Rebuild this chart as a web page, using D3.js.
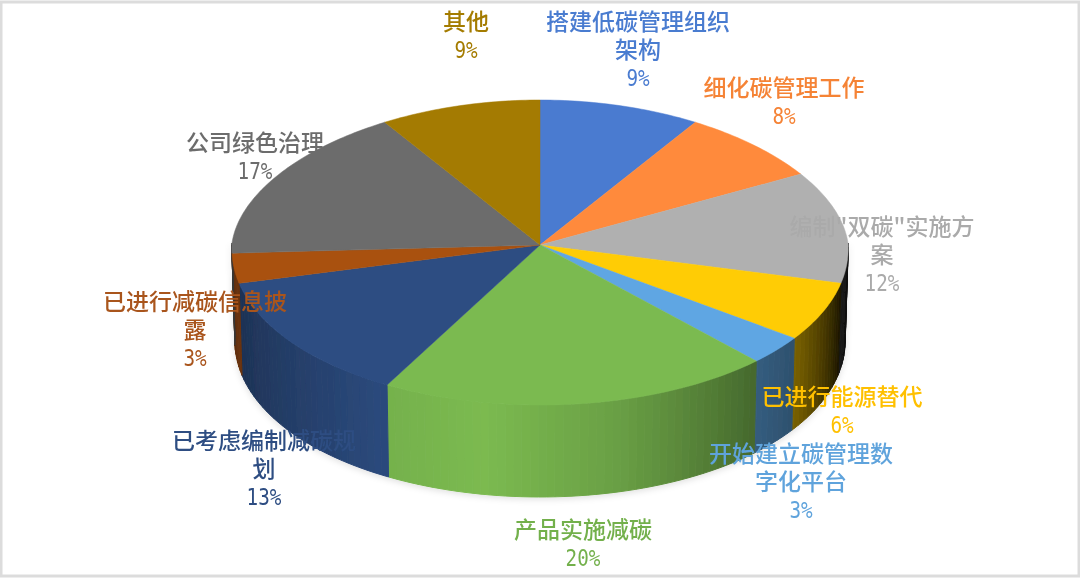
<!DOCTYPE html>
<html>
<head>
<meta charset="utf-8">
<script src="https://cdn.jsdelivr.net/npm/d3@7"></script>
<style>
html, body { margin: 0; padding: 0; background: #fff; }
svg { display: block; }
text { font-family: "Noto Sans CJK SC", "Noto Sans", sans-serif; font-size: 23px; font-weight: 500; text-anchor: middle; }
.pct { font-family: "DejaVu Sans Mono", monospace; font-size: 23px; font-weight: 400; }
</style>
</head>
<body>
<div id="chart"></div>
<script>
var width = 1080, height = 579;

// data, clockwise from 12 o'clock
var categories = ["搭建低碳管理组织架构", "细化碳管理工作", "编制\"双碳\"实施方案", "已进行能源替代", "开始建立碳管理数字化平台",
                  "产品实施减碳", "已考虑编制减碳规划", "已进行减碳信息披露", "公司绿色治理", "其他"];
var values = [9, 8, 12, 6, 3, 20, 13, 3, 17, 9];
var colors = ["#4a7bd0", "#ff8a3c", "#b0b0b0", "#ffcc05", "#5fa6e3", "#7bba50", "#2d4d82", "#a9510f", "#6c6c6c", "#a47b02"];
var labelColors = ["#4a7bd0", "#f58336", "#aaaaaa", "#ffc000", "#5fa3dc", "#73b04c", "#2d4d82", "#a9541c", "#6c6c6c", "#a47b02"];

// how the category names wrap in the labels
var labelLines = [["搭建低碳管理组织", "架构"], ["细化碳管理工作"], ["编制\"双碳\"实施方", "案"], ["已进行能源替代"], ["开始建立碳管理数", "字化平台"],
                  ["产品实施减碳"], ["已考虑编制减碳规", "划"], ["已进行减碳信息披", "露"], ["公司绿色治理"], ["其他"]];
// label centre x and first line baseline
var labelX = [638, 784, 882, 842, 801, 583, 264, 195, 255, 466];
var labelY = [30, 96, 235, 405, 462, 538, 449, 310, 151, 30];
var lineStep = 28;

// pie geometry (perspective: near half is taller than far half)
var hub = [540, 245];
var top3d = {cx: 540, cy: 243, rx: 308, ryFar: 143, ryNear: 162};
var bottom3d = {cx: 540, cy: 335, rx: 305, ryFar: 145, ryNear: 162};
var perspectiveFar = 0.07, perspectiveNear = 0.035;

// wall brightness by angle in degrees
var shadeAngles = [90, 105, 126, 137, 165, 190, 210, 255, 270];
var shadeLevels = [0.08, 0.12, 0.48, 0.56, 0.85, 1.0, 0.95, 0.65, 0.5];
var shade = d3.scaleLinear().domain(shadeAngles).range(shadeLevels);

function project(e, a) {
    var c = Math.cos(a);
    var p = c > 0 ? perspectiveFar : perspectiveNear;
    return [e.cx + e.rx * Math.sin(a) * (1 - p * c), e.cy - c * (c > 0 ? e.ryFar : e.ryNear)];
}

function darken(col, k) {
    var c = d3.rgb(col);
    return d3.rgb(c.r * k, c.g * k, c.b * k).formatHex();
}

var svg = d3.select("#chart").append("svg")
    .attr("width", width)
    .attr("height", height);

var defs = svg.append("defs");
defs.append("filter").attr("id", "soft").append("feGaussianBlur").attr("stdDeviation", 0.45);
var sh = defs.append("filter").attr("id", "shadow")
    .attr("x", "-5%").attr("y", "-5%").attr("width", "110%").attr("height", "115%");
sh.append("feDropShadow").attr("dx", 0).attr("dy", 2).attr("stdDeviation", 3)
    .attr("flood-color", "#000").attr("flood-opacity", 0.12);

// page frame
svg.append("rect")
    .attr("x", 1).attr("y", 2)
    .attr("width", width - 2).attr("height", height - 5)
    .attr("fill", "#fff").attr("stroke", "#dcdcdc").attr("stroke-width", 3);

var arcs = d3.pie().sort(null).value(d => d)(values);
var line = d3.line();
var toRad = Math.PI / 180;

// side wall, thin strips along the near half
var walls = svg.append("g").attr("filter", "url(#shadow)");
arcs.forEach(function(d, i) {
    var start = Math.max(d.startAngle / toRad, 90);
    var end = Math.min(d.endAngle / toRad, 270);
    if (end <= start) return;
    var steps = d3.range(start, end, 1.5).concat([end]);
    d3.pairs(steps).forEach(function(p) {
        var a0 = p[0] * toRad, a1 = p[1] * toRad;
        var col = darken(colors[i], shade((p[0] + p[1]) / 2));
        walls.append("path")
            .attr("d", line([project(top3d, a0), project(top3d, a1), project(bottom3d, a1), project(bottom3d, a0)]) + "Z")
            .attr("fill", col)
            .attr("stroke", col)
            .attr("stroke-width", 1);
    });
});

// top face
svg.append("g").selectAll("path")
    .data(arcs)
    .enter().append("path")
    .attr("d", function(d) {
        var n = Math.ceil((d.endAngle - d.startAngle) / toRad);
        var pts = d3.range(n + 1).map(j => project(top3d, d.startAngle + (d.endAngle - d.startAngle) * j / n));
        return line([hub].concat(pts)) + "Z";
    })
    .attr("fill", (d, i) => colors[i])
    .attr("stroke", (d, i) => colors[i])
    .attr("stroke-width", 0.5);

// labels
var labels = svg.append("g").attr("filter", "url(#soft)").selectAll("g")
    .data(categories)
    .enter().append("g")
    .attr("fill", (d, i) => labelColors[i]);

labels.each(function(d, i) {
    var g = d3.select(this);
    labelLines[i].forEach(function(t, j) {
        g.append("text")
            .attr("x", labelX[i])
            .attr("y", labelY[i] + j * lineStep)
            .text(t);
    });
    var pct = values[i] + "%";
    g.append("text")
        .attr("class", "pct")
        .attr("x", labelX[i])
        .attr("y", labelY[i] + labelLines[i].length * lineStep)
        .attr("textLength", pct.length * 11.6)
        .attr("lengthAdjust", "spacingAndGlyphs")
        .text(pct);
});
</script>
</body>
</html>
